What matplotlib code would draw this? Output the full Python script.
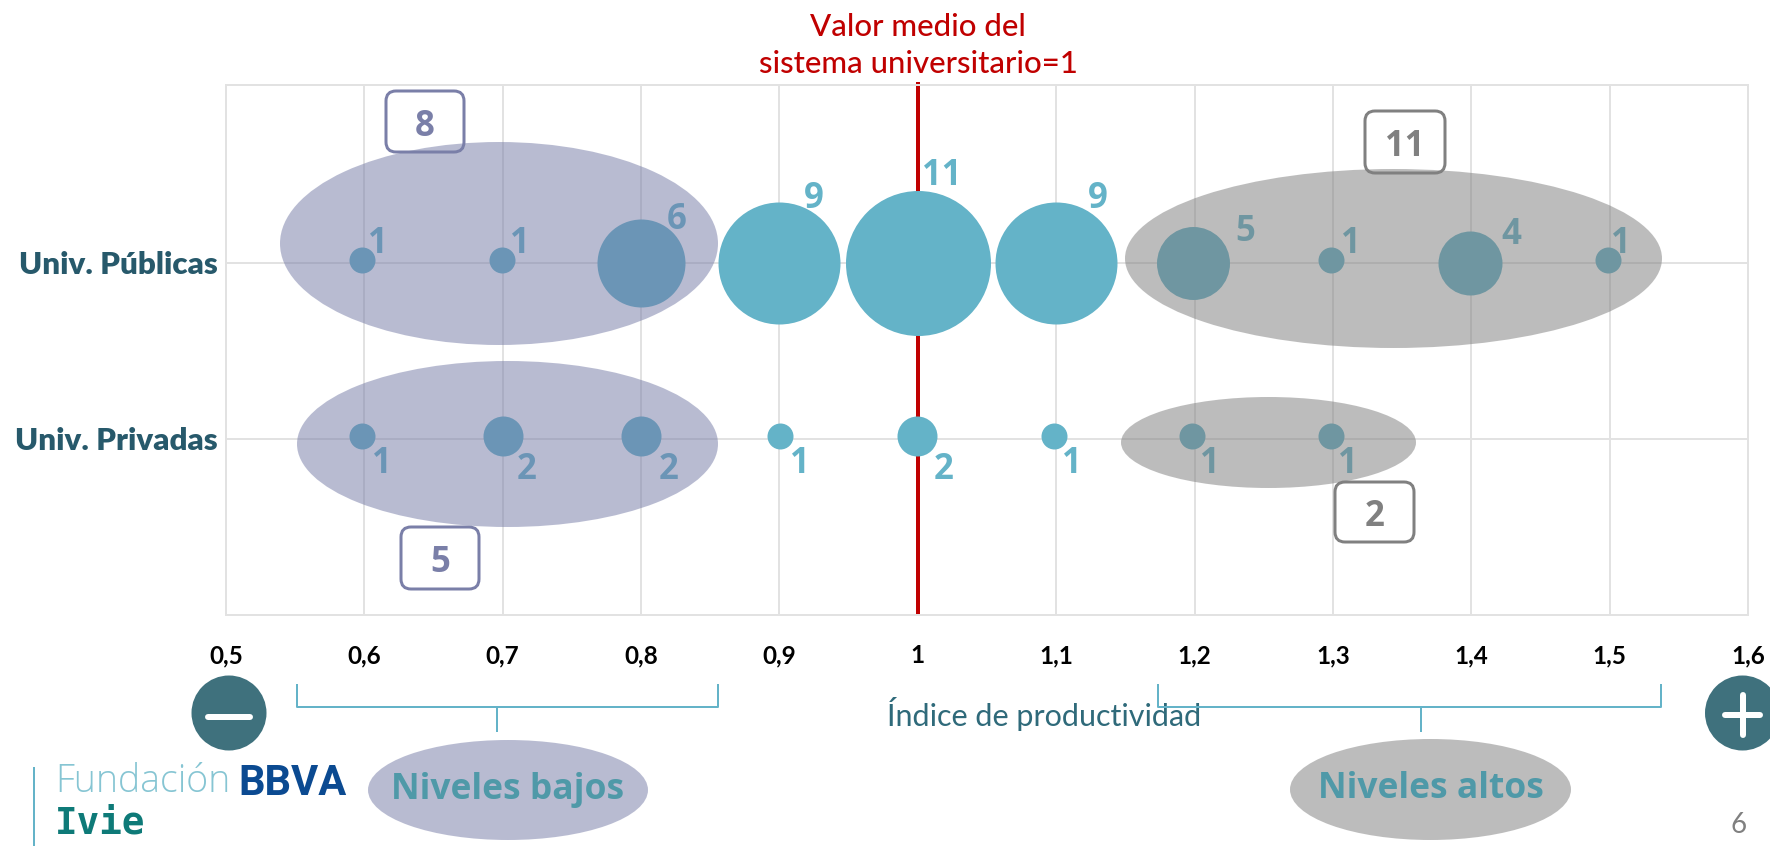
import matplotlib
matplotlib.use("Agg")
import matplotlib.pyplot as plt
from matplotlib.patches import Ellipse, FancyBboxPatch, Circle
from matplotlib.transforms import ScaledTranslation

# data
x_ticks = [0.5, 0.6, 0.7, 0.8, 0.9, 1.0, 1.1, 1.2, 1.3, 1.4, 1.5, 1.6]
x_labels = ["0,5", "0,6", "0,7", "0,8", "0,9", "1", "1,1", "1,2", "1,3", "1,4", "1,5", "1,6"]
categories = ["Univ. Privadas", "Univ. Públicas"]
pub_x = [0.6, 0.7, 0.8, 0.9, 1.0, 1.1, 1.2, 1.3, 1.4, 1.5]
pub_n = [1, 1, 6, 9, 11, 9, 5, 1, 4, 1]
priv_x = [0.6, 0.7, 0.8, 0.9, 1.0, 1.1, 1.2, 1.3]
priv_n = [1, 2, 2, 1, 2, 1, 1, 1]

TEAL = "#64b3c8"
DARK = "#27596b"
RED = "#c00000"
GRID = "#e2e2e2"
LILAC = "#7379a5"
GREY = "#7b7b7b"
SANS = "Lato"
NUM = "Open Sans"

# bubble diameter in pixels for each count
diam = {1: 26, 2: 40, 4: 64, 5: 73, 6: 88, 9: 122, 11: 145}
# bubbles sit slightly off the gridlines in the original, pixels
pub_nudge = [-2, -1, 0, 0, 0, 0, -2, -2, -1, -2]
priv_nudge = [-2, 0, 0, 1, -1, -2, -3, -2]
# label offsets from the bubble centre, pixels
pub_off = [(16, -17), (18, -17), (36, -41), (34, -62), (24, -85), (42, -62), (53, -29), (20, -17), (41, -26), (13, -17)]
priv_off = [(20, 26), (24, 32), (28, 32), (19, 26), (27, 32), (18, 26), (18, 26), (17, 26)]

px = 0.72
fig = plt.figure(figsize=(17.7, 8.46), dpi=100)
ax = fig.add_axes([226 / 1770, (846 - 615) / 846, 1522 / 1770, 530 / 846])
ax.set_xlim(0.5, 1.6)
ax.set_ylim(0, 3.01)

ax.grid(True, color=GRID, lw=2 * px, zorder=0)
ax.set_axisbelow(True)
for s in ax.spines.values():
    s.set_color(GRID)
    s.set_linewidth(2 * px)
ax.set_xticks(x_ticks)
ax.set_xticklabels(x_labels, fontsize=17.5, fontweight="bold", family=SANS, color="black")
ax.set_yticks([1, 2])
ax.set_yticklabels(categories, fontsize=22.5, fontweight="heavy", family=SANS, color=DARK)
ax.tick_params(axis="x", length=0, pad=21)
ax.tick_params(axis="y", length=0, pad=6)

ax.plot([1, 1], [0, 3.025], color=RED, lw=4 * px, zorder=1, clip_on=False, solid_capstyle="butt")

for xs, ns, yy, off, nudge in [(pub_x, pub_n, 2, pub_off, pub_nudge), (priv_x, priv_n, 1, priv_off, priv_nudge)]:
    for x, n, o, d in zip(xs, ns, off, nudge):
        dy = 2.5 if n <= 2 else 0
        pts = ax.scatter([x], [yy], s=(diam[n] * px) ** 2, color=TEAL, lw=0, zorder=3)
        pts.set_offset_transform(ax.transData + ScaledTranslation(d * px / 72, dy * px / 72, fig.dpi_scale_trans))
        ax.annotate(str(n), (x, yy + 0.008), xytext=((o[0] + d) * px, -o[1] * px), textcoords="offset points",
                    ha="center", va="center", fontsize=25, fontweight="bold", family=NUM, color=TEAL, zorder=4)

ax.set_xlabel("Índice de productividad", fontsize=22, family=SANS, color="#2f6a7a")
ax.xaxis.set_label_coords((1044 - 226) / 1522, -(714 - 615) / 530)
ax.xaxis.label.set_verticalalignment("center")

# everything below is annotation on top of the chart, in pixel coordinates
ov = fig.add_axes([0, 0, 1, 1])
ov.set_xlim(0, 1770)
ov.set_ylim(846, 0)
ov.axis("off")


def oval(x0, x1, y0, y1, c):
    ov.add_patch(Ellipse(((x0 + x1) / 2, (y0 + y1) / 2), x1 - x0, y1 - y0, fc=c, ec="none", alpha=0.5))


oval(280, 718, 142, 345, LILAC)
oval(297, 718, 361, 527, LILAC)
oval(1125, 1662, 169, 348, GREY)
oval(1121, 1416, 397, 488, GREY)
oval(368, 648, 740, 840, LILAC)
oval(1290, 1571, 739, 840, GREY)


def box(x0, x1, y0, y1, txt, c):
    ov.add_patch(FancyBboxPatch((x0, y0), x1 - x0, y1 - y0, boxstyle="round,pad=0,rounding_size=10",
                                fc="none", ec=c, lw=3 * px))
    ov.text((x0 + x1) / 2, (y0 + y1) / 2 + 5, txt, ha="center", va="center", fontsize=25,
            fontweight="bold", family=NUM, color=c)


box(386, 464, 91, 152, "8", "#7a7fa8")
box(401, 479, 527, 589, "5", "#7a7fa8")
box(1365, 1445, 111, 173, "11", "#808080")
box(1335, 1414, 482, 542, "2", "#808080")

# brackets
for x0, x1, xm in [(297, 718, 497), (1158, 1661, 1421)]:
    ov.plot([x0, x0, x1, x1], [685, 707, 707, 685], color=TEAL, lw=2 * px)
    ov.plot([xm, xm], [707, 731], color=TEAL, lw=2 * px)

ov.text(508, 790, "Niveles bajos", ha="center", va="center", fontsize=25.5, fontweight="bold", family=NUM, color="#4f99a8")
ov.text(1431, 789, "Niveles altos", ha="center", va="center", fontsize=25.5, fontweight="bold", family=NUM, color="#4f99a8")

# minus and plus
ov.add_patch(Circle((229, 713), 37.5, fc="#3f717d", ec="none"))
ov.plot([208, 250], [717, 717], color="white", lw=6 * px, solid_capstyle="round")
ov.add_patch(Circle((1742.5, 713), 37.5, fc="#3f717d", ec="none", clip_on=False))
ov.plot([1725, 1760], [715, 715], color="white", lw=6 * px, solid_capstyle="round")
ov.plot([1742.5, 1742.5], [695, 735], color="white", lw=6 * px, solid_capstyle="round")

ov.text(918, 27, "Valor medio del", ha="center", va="center", fontsize=22.4, family=SANS, color=RED, fontweight="medium")
ov.text(918, 64, "sistema universitario=1", ha="center", va="center", fontsize=22.4, family=SANS, color=RED, fontweight="medium")

# logo
ov.plot([33.5, 33.5], [768, 846], color=TEAL, lw=2 * px)
ov.text(55, 782, "Fundación", ha="left", va="center", fontsize=27, family="Open Sans", color="#86c5d3", fontweight="light")
ov.text(238, 795, "BBVA", ha="left", va="baseline", fontsize=30, family="Roboto", color="#0b4a91", fontweight="bold")
ov.text(55, 834, "Ivie", ha="left", va="baseline", fontsize=27, family="DejaVu Sans Mono", color="#0e7a78", fontweight="bold")

ov.text(1739, 825, "6", ha="center", va="center", fontsize=20, family=SANS, color="#808080")

fig.savefig("out.png", dpi=100)
